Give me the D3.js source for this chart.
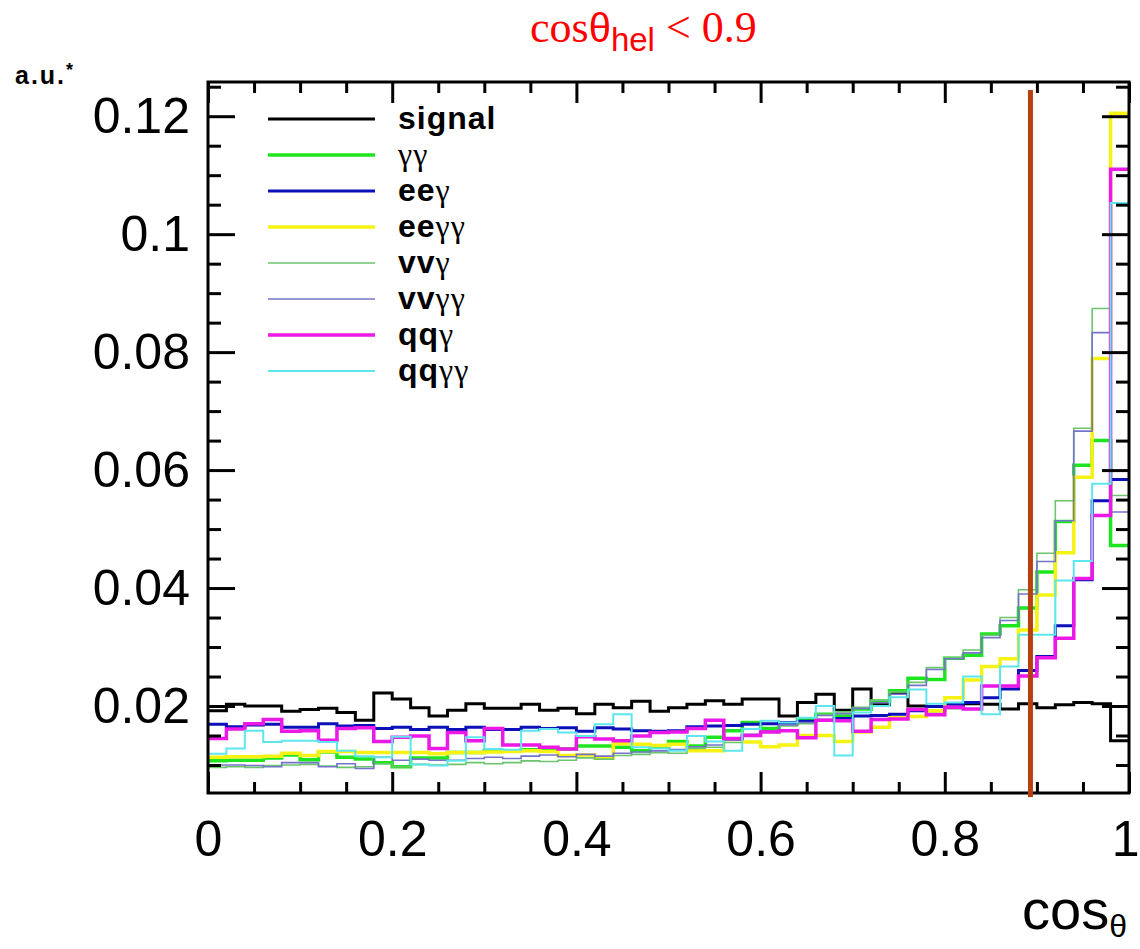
<!DOCTYPE html>
<html>
<head>
<meta charset="utf-8">
<script src="https://cdn.jsdelivr.net/npm/d3@7"></script>
<style>
  body { margin: 0; background: #fff; }
  text { font-family: "Liberation Sans", Arial, Helvetica, sans-serif; }
</style>
</head>
<body>
<svg id="chart" width="1140" height="949"></svg>
<script>
// cos(theta) distributions, 50 bins on [0, 1], unit-normalised
const nBins = 50;
const xRange = [0, 1];

const signal = [0.0192,0.0203,0.0200,0.0200,0.0191,0.0194,0.0196,0.0189,0.0176,0.0222,
                0.0212,0.0197,0.0183,0.0193,0.0204,0.0196,0.0196,0.0203,0.0193,0.0196,
                0.0187,0.0203,0.0197,0.0208,0.0191,0.0197,0.0203,0.0209,0.0203,0.0212,
                0.0212,0.0183,0.0206,0.0220,0.0193,0.0229,0.0202,0.0222,0.0200,0.0192,
                0.0197,0.0204,0.0203,0.0195,0.0204,0.0197,0.0202,0.0206,0.0204,0.0141];

const gg = [0.0107,0.0108,0.0108,0.0112,0.0117,0.0109,0.0122,0.0113,0.0110,0.0104,
            0.0097,0.0112,0.0112,0.0121,0.0121,0.0124,0.0124,0.0126,0.0128,0.0127,
            0.0132,0.0132,0.0130,0.0124,0.0130,0.0140,0.0132,0.0147,0.0158,0.0172,
            0.0162,0.0170,0.0178,0.0186,0.0183,0.0195,0.0208,0.0226,0.0247,0.0245,
            0.0281,0.0286,0.0322,0.0336,0.0366,0.0427,0.0513,0.0608,0.0650,0.0472];

const eeg = [0.0169,0.0165,0.0168,0.0169,0.0164,0.0164,0.0170,0.0166,0.0167,0.0162,
             0.0164,0.0160,0.0164,0.0160,0.0164,0.0160,0.0160,0.0164,0.0162,0.0163,
             0.0157,0.0163,0.0161,0.0158,0.0157,0.0158,0.0165,0.0166,0.0167,0.0169,
             0.0170,0.0172,0.0174,0.0176,0.0179,0.0183,0.0184,0.0186,0.0192,0.0199,
             0.0203,0.0206,0.0214,0.0229,0.0260,0.0284,0.0336,0.0414,0.0548,0.0584];

const eegg = [0.0113,0.0114,0.0114,0.0115,0.0120,0.0116,0.0123,0.0123,0.0121,0.0121,
              0.0121,0.0121,0.0119,0.0121,0.0121,0.0122,0.0123,0.0124,0.0123,0.0116,
              0.0117,0.0112,0.0136,0.0135,0.0133,0.0135,0.0124,0.0124,0.0143,0.0139,
              0.0131,0.0134,0.0150,0.0150,0.0140,0.0156,0.0164,0.0180,0.0182,0.0192,
              0.0214,0.0244,0.0267,0.0280,0.0329,0.0388,0.0460,0.0588,0.0789,0.1205];

const vvg = [0.0096,0.0097,0.0096,0.0099,0.0100,0.0101,0.0098,0.0096,0.0097,0.0102,
             0.0097,0.0101,0.0100,0.0101,0.0104,0.0102,0.0104,0.0107,0.0106,0.0108,
             0.0112,0.0110,0.0116,0.0118,0.0121,0.0120,0.0128,0.0130,0.0138,0.0150,
             0.0155,0.0166,0.0170,0.0186,0.0190,0.0198,0.0210,0.0224,0.0240,0.0265,
             0.0282,0.0295,0.0320,0.0350,0.0397,0.0459,0.0548,0.0671,0.0874,0.0557];

const vvgg = [0.0100,0.0100,0.0099,0.0097,0.0104,0.0104,0.0097,0.0102,0.0094,0.0113,
              0.0108,0.0110,0.0108,0.0108,0.0111,0.0113,0.0111,0.0115,0.0117,0.0114,
              0.0118,0.0115,0.0120,0.0122,0.0124,0.0126,0.0131,0.0134,0.0142,0.0152,
              0.0158,0.0168,0.0172,0.0184,0.0187,0.0196,0.0206,0.0220,0.0235,0.0262,
              0.0280,0.0290,0.0316,0.0345,0.0390,0.0445,0.0514,0.0666,0.0833,0.0529];

const qqg = [0.0145,0.0161,0.0170,0.0177,0.0157,0.0158,0.0142,0.0162,0.0163,0.0140,
             0.0147,0.0149,0.0128,0.0155,0.0141,0.0162,0.0134,0.0134,0.0130,0.0127,
             0.0148,0.0144,0.0141,0.0149,0.0155,0.0156,0.0162,0.0176,0.0145,0.0150,
             0.0156,0.0158,0.0146,0.0176,0.0175,0.0157,0.0177,0.0178,0.0194,0.0185,
             0.0198,0.0195,0.0234,0.0234,0.0251,0.0282,0.0315,0.0416,0.0523,0.1110];

const qqgg = [0.0119,0.0128,0.0158,0.0139,0.0141,0.0141,0.0139,0.0124,0.0115,0.0113,
              0.0148,0.0101,0.0099,0.0107,0.0147,0.0127,0.0126,0.0158,0.0161,0.0155,
              0.0149,0.0169,0.0186,0.0130,0.0128,0.0124,0.0149,0.0140,0.0124,0.0161,
              0.0175,0.0172,0.0180,0.0200,0.0116,0.0189,0.0200,0.0215,0.0228,0.0204,
              0.0206,0.0250,0.0186,0.0267,0.0321,0.0321,0.0413,0.0446,0.0577,0.1053];

// legend entries: bold latin part + greek part
const seriesNames  = ["signal", "γγ", "eeγ", "eeγγ", "vvγ", "vvγγ", "qqγ", "qqγγ"];
const seriesValues = [signal, gg, eeg, eegg, vvg, vvgg, qqg, qqgg];
const seriesColors = ["#000000", "#1ee61e", "#0b10b8", "#f6f214", "#6cc46c", "#7474c8", "#ec18e6", "#5ee6ee"];
const seriesWidths = [3, 3.5, 3, 3.5, 1.6, 1.6, 3.5, 2];

const xMajorTicks = [0, 0.2, 0.4, 0.6, 0.8, 1];
const xMinorTicks = [0.05, 0.1, 0.15, 0.25, 0.3, 0.35, 0.45, 0.5, 0.55, 0.65, 0.7, 0.75, 0.85, 0.9, 0.95];
const yMajorTicks = [0.02, 0.04, 0.06, 0.08, 0.1, 0.12];
const yMinorTicks = [0.01, 0.015, 0.025, 0.03, 0.035, 0.045, 0.05, 0.055, 0.065, 0.07, 0.075,
                     0.085, 0.09, 0.095, 0.105, 0.11, 0.115, 0.125];
const yRange = [0.00525, 0.1258];
const cutValue = 0.893;

const svg = d3.select("#chart");
svg.append("rect").attr("width", 1140).attr("height", 949).attr("fill", "#fff");

const plot = { left: 208, right: 1129, top: 82, bottom: 793 };
const x = d3.scaleLinear().domain(xRange).range([plot.left, plot.right]);
const y = d3.scaleLinear().domain(yRange).range([plot.bottom, plot.top]);

svg.append("clipPath").attr("id", "plotClip")
  .append("rect")
  .attr("x", plot.left).attr("y", plot.top)
  .attr("width", plot.right - plot.left).attr("height", plot.bottom - plot.top);

const binWidth = (xRange[1] - xRange[0]) / nBins;

// histogram outlines
const stepLine = d3.line()
  .x(d => x(d[0]))
  .y(d => y(d[1]))
  .curve(d3.curveStepAfter);

const histG = svg.append("g").attr("clip-path", "url(#plotClip)");
seriesValues.forEach((vals, k) => {
  const pts = vals.map((v, i) => [xRange[0] + i * binWidth, v]);
  pts.push([xRange[1], vals[vals.length - 1]]);
  histG.append("path")
    .attr("d", stepLine(pts))
    .attr("fill", "none")
    .attr("stroke", seriesColors[k])
    .attr("stroke-width", seriesWidths[k])
    .attr("stroke-linejoin", "miter");
});

// axes (ticks pointing inwards, ROOT style)
function styleAxis(g) {
  g.select(".domain").remove();
  g.selectAll("line").attr("stroke", "#000").attr("stroke-width", 3);
  g.selectAll("text").attr("fill", "#000").style("font-size", "50px")
    .style("font-family", "'Liberation Sans', Arial, sans-serif");
}

const xAxisG = svg.append("g").attr("transform", `translate(0,${plot.bottom})`)
  .call(d3.axisBottom(x).tickValues(xMajorTicks).tickSizeInner(-21).tickPadding(27)
        .tickFormat(d => d3.format("~g")(d)))
  .call(styleAxis);
// keep the last label inside the canvas
xAxisG.selectAll(".tick").filter(d => d === xRange[1]).select("text")
  .attr("text-anchor", "end").attr("x", 10);

svg.append("g").attr("transform", `translate(0,${plot.bottom})`)
  .call(d3.axisBottom(x).tickValues(xMinorTicks).tickSizeInner(-11).tickFormat(""))
  .call(styleAxis);
svg.append("g").attr("transform", `translate(0,${plot.top})`)
  .call(d3.axisTop(x).tickValues(xMajorTicks).tickSizeInner(-21).tickFormat(""))
  .call(styleAxis);
svg.append("g").attr("transform", `translate(0,${plot.top})`)
  .call(d3.axisTop(x).tickValues(xMinorTicks).tickSizeInner(-11).tickFormat(""))
  .call(styleAxis);

svg.append("g").attr("transform", `translate(${plot.left},0)`)
  .call(d3.axisLeft(y).tickValues(yMajorTicks).tickSizeInner(-27).tickPadding(18)
        .tickFormat(d => d3.format("~g")(d)))
  .call(styleAxis);
svg.append("g").attr("transform", `translate(${plot.left},0)`)
  .call(d3.axisLeft(y).tickValues(yMinorTicks).tickSizeInner(-13).tickFormat(""))
  .call(styleAxis);
svg.append("g").attr("transform", `translate(${plot.right},0)`)
  .call(d3.axisRight(y).tickValues(yMajorTicks).tickSizeInner(-27).tickFormat(""))
  .call(styleAxis);
svg.append("g").attr("transform", `translate(${plot.right},0)`)
  .call(d3.axisRight(y).tickValues(yMinorTicks).tickSizeInner(-13).tickFormat(""))
  .call(styleAxis);

// frame
svg.append("rect")
  .attr("x", plot.left).attr("y", plot.top)
  .attr("width", plot.right - plot.left).attr("height", plot.bottom - plot.top)
  .attr("fill", "none").attr("stroke", "#000").attr("stroke-width", 3);

// cut line
svg.append("line")
  .attr("x1", x(cutValue)).attr("x2", x(cutValue))
  .attr("y1", 90).attr("y2", 797)
  .attr("stroke", "#b8400e").attr("stroke-width", 5);

// legend
const legend = svg.append("g");
seriesNames.forEach((name, k) => {
  const ly = 119 + k * 36;
  legend.append("line")
    .attr("x1", 268).attr("x2", 375).attr("y1", ly).attr("y2", ly)
    .attr("stroke", seriesColors[k]).attr("stroke-width", seriesWidths[k]);
  const latin = name.replace(/γ/g, "");
  const greek = name.slice(latin.length);
  const t = legend.append("text").attr("x", 398).attr("y", ly + 10)
    .style("font-size", "32px");
  if (latin) t.append("tspan").text(latin).style("font-weight", "bold")
    .style("letter-spacing", "1px");
  if (greek) t.append("tspan").text(greek)
    .style("font-family", "'Liberation Serif', 'Times New Roman', serif")
    .style("font-size", "32px").style("letter-spacing", "1px");
});

// y-axis unit
svg.append("text").attr("x", 15).attr("y", 84)
  .style("font-size", "25px").style("font-weight", "bold").style("letter-spacing", "2px")
  .text("a.u.")
  .append("tspan").attr("dy", -8).style("font-size", "18px").text("*");

// x-axis title
const xt = svg.append("text").attr("x", 1127).attr("y", 929)
  .attr("text-anchor", "end").style("font-size", "56px");
xt.append("tspan").text("cos");
xt.append("tspan").attr("dy", 8).style("font-size", "32px").text("θ");

// cut label
const title = svg.append("text").attr("x", 530).attr("y", 42)
  .attr("fill", "#ff0000").style("font-size", "44px")
  .style("font-family", "'Liberation Serif', 'Times New Roman', serif");
title.append("tspan").text("cos");
title.append("tspan").style("font-family", "'Liberation Sans', Arial, sans-serif")
  .style("font-size", "40px").text("θ");
title.append("tspan").attr("dy", 9).style("font-family", "'Liberation Sans', Arial, sans-serif")
  .style("font-size", "33px").text("hel");
title.append("tspan").attr("dy", -9).text(" < 0.9");
</script>
</body>
</html>
